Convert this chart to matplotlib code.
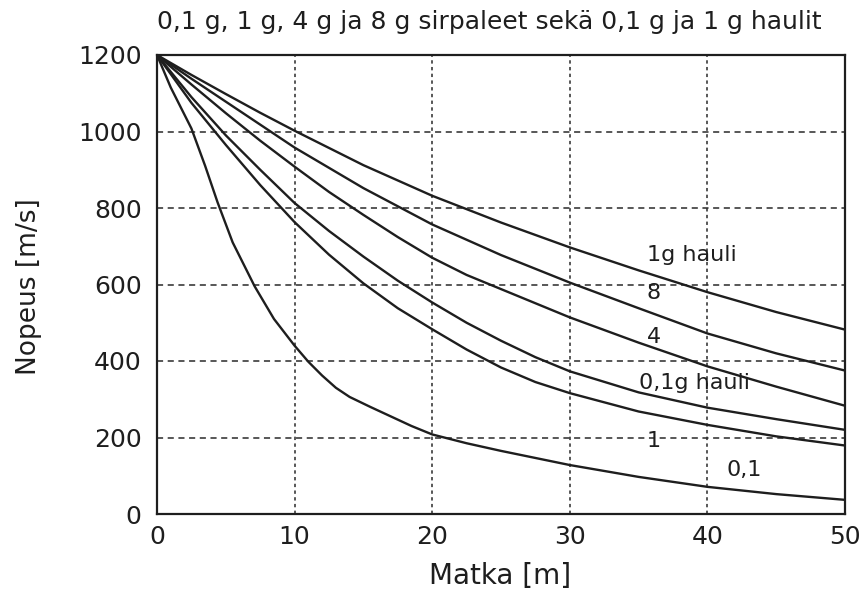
import matplotlib
matplotlib.use('Agg')
import matplotlib.pyplot as plt

# velocity [m/s] vs distance [m]
x_1g_hauli = [0, 2.5, 5, 7.5, 10, 15, 20, 25, 30, 35, 40, 45, 50]
v_1g_hauli = [1200, 1148, 1098, 1049, 1002, 912, 832, 762, 697, 637, 580, 528, 482]

x_8 = [0, 2.5, 5, 7.5, 10, 15, 20, 25, 30, 35, 40, 45, 50]
v_8 = [1200, 1138, 1078, 1018, 958, 852, 757, 677, 605, 538, 472, 420, 375]

x_4 = [0, 2.5, 5, 7.5, 10, 12.5, 15, 17.5, 20, 22.5, 25, 30, 35, 40, 45, 50]
v_4 = [1200, 1123, 1048, 976, 908, 842, 782, 724, 670, 625, 588, 514, 448, 386, 333, 283]

x_01g_hauli = [0, 2.5, 5, 7.5, 10, 12.5, 15, 17.5, 20, 22.5, 25, 27.5, 30, 35, 40, 45, 50]
v_01g_hauli = [1200, 1090, 990, 900, 813, 740, 673, 610, 553, 500, 453, 410, 373, 318, 278, 248, 220]

x_1 = [0, 2.5, 5, 7.5, 10, 12.5, 15, 17.5, 20, 22.5, 25, 27.5, 30, 35, 40, 45, 50]
v_1 = [1200, 1075, 965, 860, 763, 678, 603, 538, 483, 430, 383, 345, 316, 268, 233, 203, 179]

x_01 = [0, 1, 2.5, 3.5, 4.4, 5.5, 7.1, 8.5, 10, 11, 12, 13, 14, 15.5, 17, 18.5, 20, 22.5, 25, 30, 35, 40, 45, 50]
v_01 = [1200, 1115, 1008, 910, 815, 710, 595, 510, 440, 398, 362, 330, 306, 280, 255, 230, 208, 185, 165, 128, 97, 71, 52, 37]

curve_labels = ['1g hauli', '8', '4', '0,1g hauli', '1', '0,1']
label_x = [35.6, 35.6, 35.6, 35.0, 35.6, 41.4]
label_y = [676, 579, 464, 343, 191, 115]

xticks = [0, 10, 20, 30, 40, 50]
yticks = [0, 200, 400, 600, 800, 1000, 1200]

plt.rcParams['font.family'] = ['DejaVu Sans']

fig = plt.figure(figsize=(8.62, 6.01), dpi=100)
ax = fig.add_axes([157 / 862, 1 - 514 / 601, (845 - 157) / 862, (514 - 55) / 601])

ink = '#1e1e1e'
for xs, vs in [(x_1g_hauli, v_1g_hauli), (x_8, v_8), (x_4, v_4),
               (x_01g_hauli, v_01g_hauli), (x_1, v_1), (x_01, v_01)]:
    ax.plot(xs, vs, color=ink, lw=1.7, solid_joinstyle='round')

# grid: long dashes horizontally, short dashes vertically
for yv in yticks[1:-1]:
    ax.axhline(yv, color='#2a2a2a', lw=1.1, ls=(0, (4, 3)), zorder=0)
for xv in xticks[1:-1]:
    ax.axvline(xv, color='#2a2a2a', lw=1.1, ls=(0, (2.2, 2.2)), zorder=0)

for txt, tx, ty in zip(curve_labels, label_x, label_y):
    ax.text(tx, ty, txt, fontsize=16, color=ink, ha='left', va='center')

ax.set_xlim(0, 50)
ax.set_ylim(0, 1200)
ax.set_xticks(xticks)
ax.set_yticks(yticks)
ax.tick_params(length=0, labelsize=18, colors=ink)
ax.tick_params(axis='x', pad=8)
ax.tick_params(axis='y', pad=11)
for s in ax.spines.values():
    s.set_linewidth(1.6)
    s.set_color(ink)

fig.text(500 / 862, 1 - 576 / 601, 'Matka [m]', fontsize=20, color=ink,
         ha='center', va='center')
fig.text(29 / 862, 1 - 287 / 601, 'Nopeus [m/s]', fontsize=19, color=ink,
         ha='center', va='center', rotation=90)
fig.text(157 / 862, 1 - 22 / 601, '0,1 g, 1 g, 4 g ja 8 g sirpaleet sekä 0,1 g ja 1 g haulit',
         fontsize=18, color=ink, ha='left', va='center')

fig.savefig('out.png', dpi=100)
